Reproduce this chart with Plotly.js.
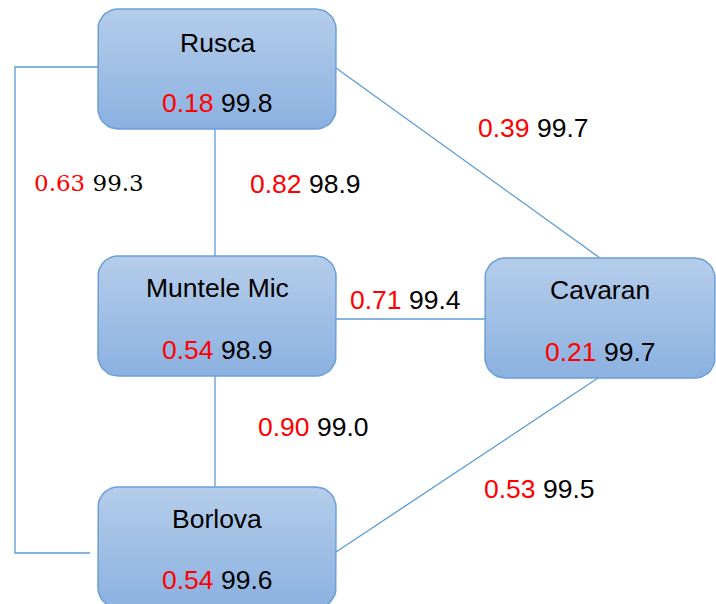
<!DOCTYPE html>
<html>
<head>
<meta charset="utf-8">
<script src="https://cdn.plot.ly/plotly-3.0.1.min.js"></script>
<style>html,body{margin:0;padding:0;background:#fff;}#chart{width:716px;height:604px;}</style>
</head>
<body>
<div id="chart"></div>
<script>
// ---- data ----
const nodeNames = ["Rusca", "Muntele Mic", "Cavaran", "Borlova"];
const nodeRisk  = ["0.18", "0.54", "0.21", "0.54"];
const nodeAvail = ["99.8", "98.9", "99.7", "99.6"];

const edgeNames = ["Rusca-Cavaran", "Rusca-Borlova", "Rusca-Muntele Mic", "Muntele Mic-Cavaran", "Muntele Mic-Borlova", "Borlova-Cavaran"];
const edgeRisk  = ["0.39", "0.63", "0.82", "0.71", "0.90", "0.53"];
const edgeAvail = ["99.7", "99.3", "98.9", "99.4", "99.0", "99.5"];

// ---- layout (pixel positions of the diagram) ----
const boxX0 = [98, 98, 485, 98];
const boxX1 = [336, 336, 715, 336];
const boxY0 = [9, 256, 258, 487];
const boxY1 = [129, 376, 378, 608];
const nameY = [43, 288, 290, 519];
const valY  = [103, 350, 352, 580];

const edgePathX = [[336, 600], [98, 15, 15, 90], [215, 215], [336, 485], [215, 215], [336, 598]];
const edgePathY = [[68, 258], [67, 67, 553, 553], [129, 256], [319, 319], [376, 487], [552, 378]];
const edgeLabX = [533, 89, 305, 405, 313, 539];
const edgeLabY = [128, 183, 184, 300, 427, 489];
const edgeLabSerif = [false, true, false, false, false, false];
const edgeLabSize = [26.5, 23, 26.5, 26.5, 26.5, 26.5];

function roundRect(x0, y0, x1, y1, r) {
  const xs = [], ys = [];
  const corners = [
    [x1 - r, y0 + r, -90, 0],
    [x1 - r, y1 - r, 0, 90],
    [x0 + r, y1 - r, 90, 180],
    [x0 + r, y0 + r, 180, 270]
  ];
  corners.forEach(c => {
    for (let a = c[2]; a <= c[3]; a += 10) {
      const t = a * Math.PI / 180;
      xs.push(c[0] + r * Math.cos(t));
      ys.push(c[1] + r * Math.sin(t));
    }
  });
  xs.push(xs[0]); ys.push(ys[0]);
  return {xs, ys};
}

const traces = [];
edgeNames.forEach((n, i) => {
  traces.push({
    type: "scatter", mode: "lines", x: edgePathX[i], y: edgePathY[i],
    line: {color: "#5b9bd5", width: 1.3}, hoverinfo: "skip", showlegend: false
  });
});
nodeNames.forEach((n, i) => {
  const rr = roundRect(boxX0[i], boxY0[i], boxX1[i], boxY1[i], 20);
  traces.push({
    type: "scatter", mode: "lines", x: rr.xs, y: rr.ys, fill: "toself",
    fillgradient: {type: "vertical", start: boxY0[i], stop: boxY1[i],
      colorscale: [[0, "#b5cdea"], [1, "#8bb1e0"]]},
    fillcolor: "#a2c0e5",
    line: {color: "#6c9fd6", width: 1.5}, hoverinfo: "skip", showlegend: false
  });
});

const SANS = "Liberation Sans, Arial, sans-serif";
const SERIF = "DejaVu Serif";

const annotations = [];
nodeNames.forEach((n, i) => {
  const cx = (boxX0[i] + boxX1[i]) / 2;
  annotations.push({x: cx, y: nameY[i], xref: "x", yref: "y", text: n, showarrow: false,
    font: {family: SANS, size: 26.5, color: "#000"}, xanchor: "center", yanchor: "middle"});
  annotations.push({x: cx, y: valY[i], xref: "x", yref: "y",
    text: "<span style='color:#ff0000'>" + nodeRisk[i] + "</span> " + nodeAvail[i], showarrow: false,
    font: {family: SANS, size: 26.5, color: "#000"}, xanchor: "center", yanchor: "middle"});
});
edgeNames.forEach((n, i) => {
  const fam = edgeLabSerif[i] ? SERIF : SANS;
  annotations.push({x: edgeLabX[i], y: edgeLabY[i], xref: "x", yref: "y",
    text: "<span style='color:#ff0000'>" + edgeRisk[i] + "</span> " + edgeAvail[i], showarrow: false,
    font: {family: fam, size: edgeLabSize[i], color: "#000"}, xanchor: "center", yanchor: "middle"});
});

const layout = {
  width: 716, height: 604,
  margin: {l: 0, r: 0, t: 0, b: 0},
  paper_bgcolor: "#ffffff", plot_bgcolor: "#ffffff",
  xaxis: {range: [0, 716], visible: false, fixedrange: true},
  yaxis: {range: [604, 0], visible: false, fixedrange: true},
  annotations: annotations,
  showlegend: false
};
Plotly.newPlot("chart", traces, layout, {displayModeBar: false, staticPlot: true});
</script>
</body>
</html>
